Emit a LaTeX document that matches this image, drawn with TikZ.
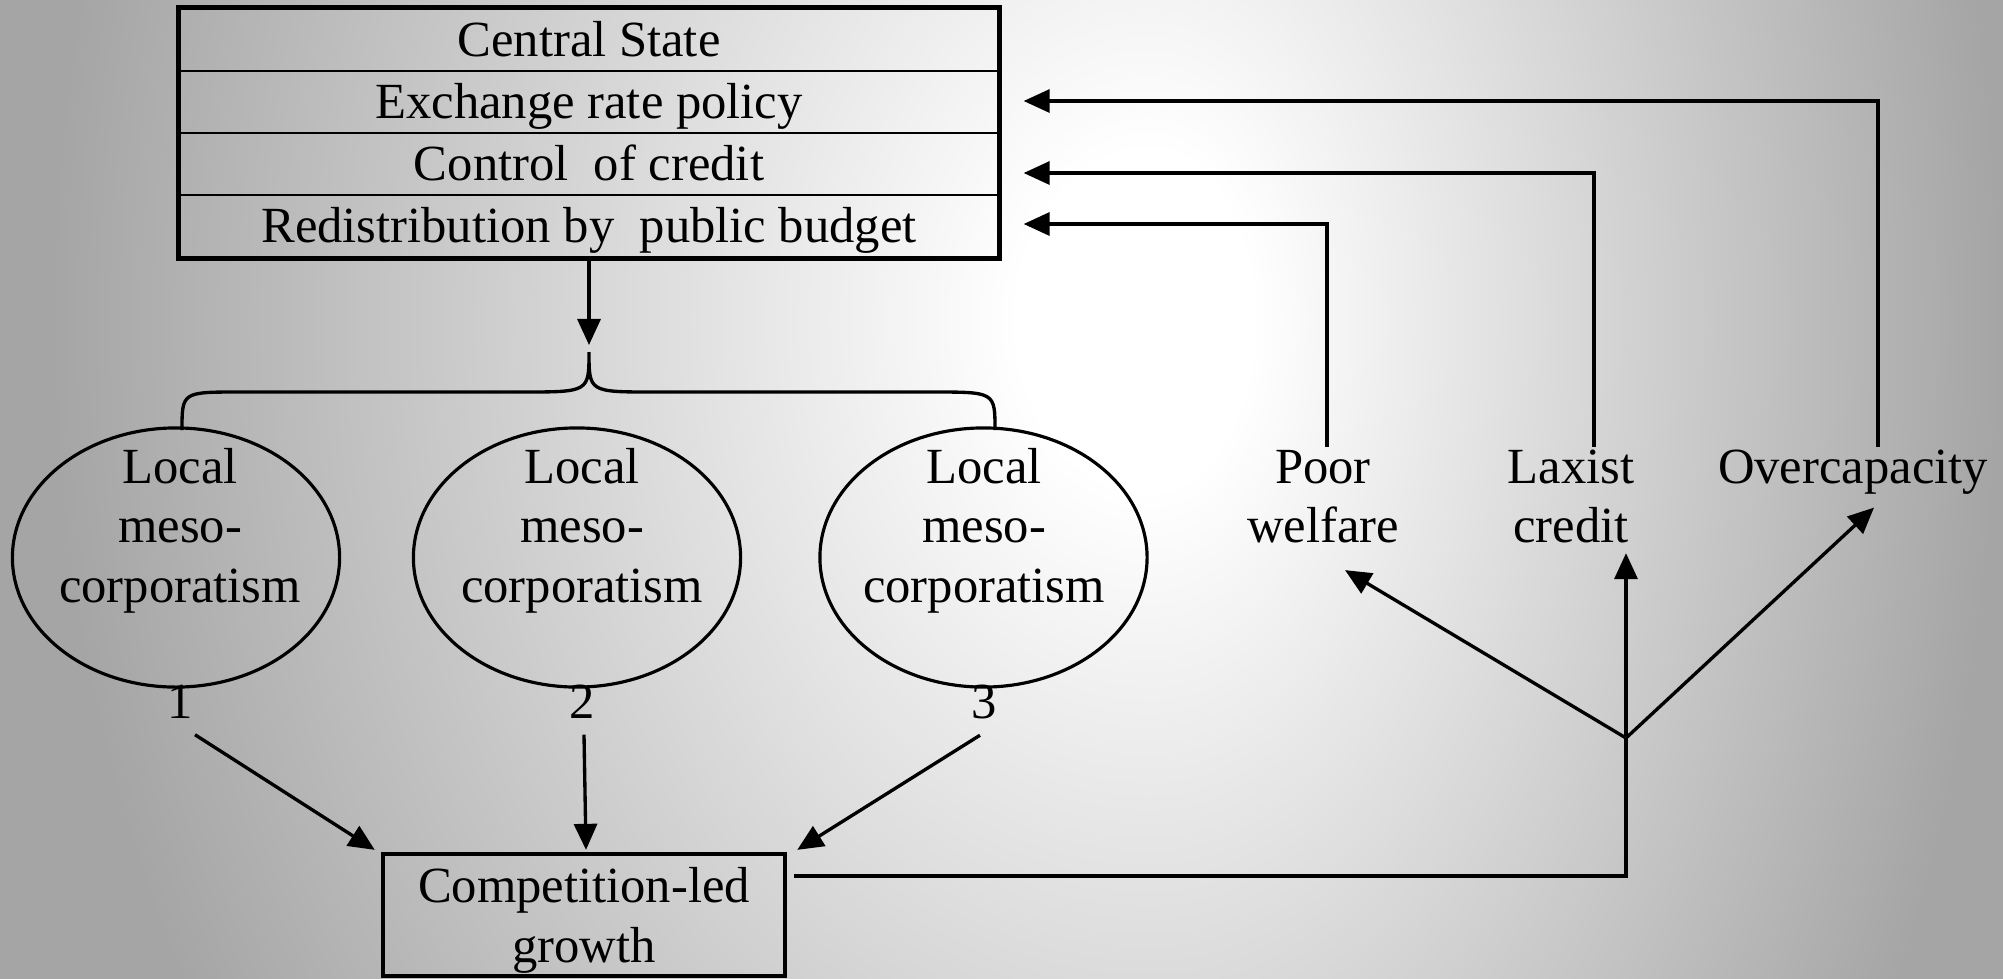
\documentclass[tikz,border=0pt]{standalone}
\usepackage{fontspec}
\setmainfont{Liberation Serif}
\usetikzlibrary{arrows.meta,shapes.geometric}

\definecolor{bgedge}{HTML}{A5A5A5}
% soft white glow in the middle of a grey page
\pgfdeclareradialshading{glow}{\pgfpoint{0bp}{0bp}}{color(0bp)=(white); color(3bp)=(white); color(25bp)=(bgedge); color(50bp)=(bgedge)}

% centred lines of text whose baseline is the first line
\newcommand\textstack[1]{\begin{tabular}[t]{@{}c@{}}#1\end{tabular}}

\tikzset{
  every node/.style={font=\fontsize{14.4pt}{16.93pt}\selectfont, inner sep=0pt},
  line/.style={line width=0.95pt},
  arr/.style={line, -{Triangle[length=0.26cm,width=0.23cm]}},
  rowbox/.style={draw, line width=0.8pt, minimum width=8.18cm, minimum height=0.62cm,
                 text height=0.40cm, text depth=0.066cm},
  outerbox/.style={line width=1.3pt},
  meso/.style={draw, ellipse, line width=0.9pt, minimum width=3.27cm, minimum height=2.59cm},
  growthbox/.style={draw, line width=1.2pt, minimum width=4.02cm, minimum height=1.22cm},
  lbl/.style={anchor=base}
}

\begin{document}
\begin{tikzpicture}[x=0.01cm, y=-0.01cm]
% page and background
\path[use as bounding box] (0,0) rectangle (2003,978);
\fill[bgedge] (-20,-20) rectangle (2023,998);
\begin{scope}
  \clip (-20,-20) rectangle (1150,998);
  \shade[shading=glow] (50,-1080) rectangle (2250,1720);
\end{scope}
\begin{scope}
  \clip (1150,-20) rectangle (2023,998);
  \shade[shading=glow] (300,-1080) rectangle (2000,1720);
\end{scope}

% central state table
\node[rowbox] (cs)  at (589,40)  {Central State};
\node[rowbox] (erp) at (589,102) {Exchange rate policy};
\node[rowbox] (cc)  at (589,164) {Control\ \ of credit};
\node[rowbox] (rpb) at (589,226) {Redistribution by\ \ public budget};
\draw[outerbox] (cs.north west) rectangle (rpb.south east);

% brace over the three local systems
\draw[line] (182,430) .. controls (182,392) .. (240,392) -- (522,392)
  .. controls (589,392) .. (589,352) coordinate (bt)
  .. controls (589,392) .. (654,392) -- (932,392)
  .. controls (995,392) .. (995,430);
\draw[arr] (rpb.south) -- ([yshift=0.07cm]bt);

% local meso-corporatism
\node[meso] (m1) at (176,557.5) {};
\node[meso] (m2) at (577,557.5) {};
\node[meso] (m3) at (983.5,557.5) {};
\node[lbl] (t1) at (180,483) {\textstack{Local\\meso-\\corporatism}};
\node[lbl] (t2) at (582,483) {\textstack{Local\\meso-\\corporatism}};
\node[lbl] (t3) at (984,483) {\textstack{Local\\meso-\\corporatism}};
\node[lbl] (n1) at (180,718) {1};
\node[lbl] (n2) at (582.5,718) {2};
\node[lbl] (n3) at (984,718) {3};

% growth regime
\node[growthbox] (cg) at (584,915) {};
\node[lbl] (cgt) at (584,902.7) {\textstack{Competition-led\\growth}};

\draw[arr] ([xshift=0.15cm,yshift=-0.16cm]n1.south) -- ([xshift=-0.06cm,yshift=0.02cm]cg.north west);
\draw[arr] ([xshift=0.015cm,yshift=-0.16cm]n2.south) -- ([xshift=0.02cm,yshift=0.02cm]cg.north);
\draw[arr] ([xshift=-0.04cm,yshift=-0.16cm]n3.south) -- ([xshift=0.1cm,yshift=0.02cm]cg.north east);

% consequences
\node[lbl] (pw) at (1323,483) {\textstack{Poor\\welfare}};
\node[lbl] (lc) at (1571,483) {\textstack{Laxist\\credit}};
\node[lbl] (oc) at (1853,483) {\textstack{Overcapacity}};

\coordinate (fan) at (1626,738);
\draw[line] ([xshift=0.07cm,yshift=0.39cm]cg.east) -| (fan);
\path (fan |- lc.south) coordinate (lcs);
\draw[arr] (fan) -- ([xshift=0.22cm,yshift=-0.09cm]pw.south);
\draw[arr] (fan) -- ([yshift=0.08cm]lcs);
\draw[arr] (fan) -- ([xshift=0.21cm,yshift=-0.06cm]oc.south);

% feedback to the central state
\draw[arr] ([xshift=0.04cm,yshift=-0.06cm]pw.north) |- ([xshift=0.24cm,yshift=0.02cm]rpb.east);
\draw[arr] ([xshift=0.23cm,yshift=-0.06cm]lc.north) |- ([xshift=0.24cm,yshift=-0.09cm]cc.east);
\draw[arr] ([xshift=0.25cm,yshift=-0.06cm]oc.north) |- ([xshift=0.24cm,yshift=0.01cm]erp.east);
\end{tikzpicture}
\end{document}
